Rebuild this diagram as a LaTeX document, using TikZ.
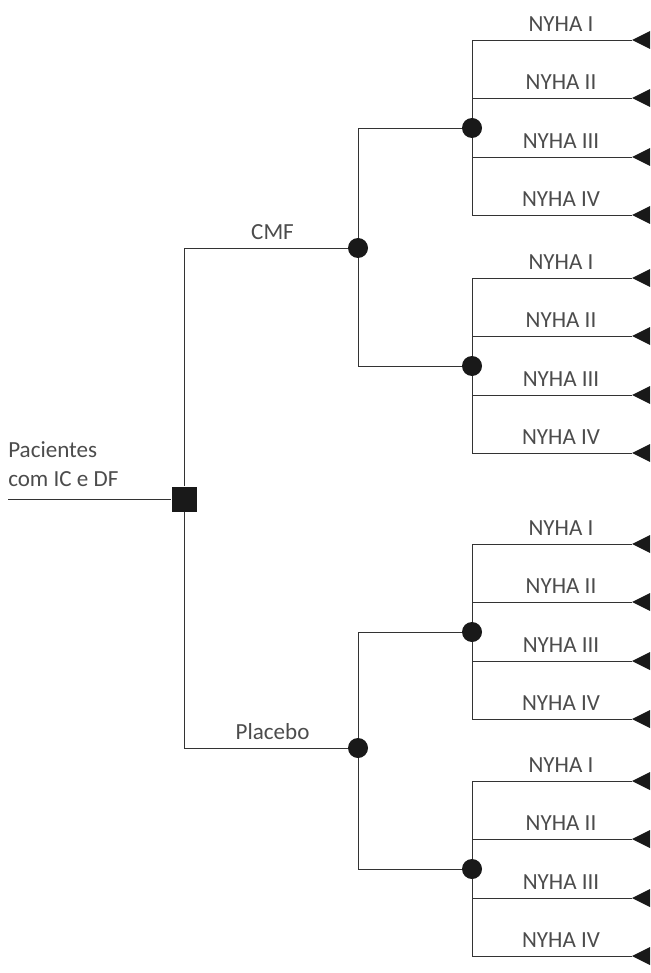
\documentclass[tikz,border=0pt]{standalone}
\usepackage{fontspec}
\setmainfont{Carlito}
\usepackage{tikz}
\tikzset{
  decision/.style={rectangle, fill=black!90, minimum size=18.75pt, inner sep=0pt},
  chance/.style={circle, fill=black!90, minimum size=15pt, inner sep=0pt},
  branch/.style={draw=black!80, line width=0.7pt},
  lbl/.style={font=\fontsize{17.3}{21.75}\selectfont, text=black!70},
  armlbl/.style={lbl, above=6pt, inner sep=0pt, xshift=#1},
  armlbl/.default=5pt,
}
\begin{document}
\begin{tikzpicture}[x=0.75pt, y=-0.75pt]
  \useasboundingbox (0,0) rectangle (650,973);
  % decision and chance nodes
  \node[decision] (dec) at (184,499) {};
  \node[chance] (c1) at (358,248) {};
  \node[chance] (c2) at (358,748) {};
  \foreach \g/\y in {11/128, 12/366, 21/632, 22/869}
    \node[chance] (c\g) at (472,\y) {};
  % patients entering the tree
  \coordinate (start) at (8,499);
  \node[lbl, anchor=south west, align=left, inner sep=0pt] (pac) at (8,487) {Pacientes\\com IC e DF};
  \draw[branch] (start) -- (dec);
  % treatment arms
  \draw[branch] (dec) |- (c1) node[armlbl, pos=0.75] {CMF};
  \draw[branch] (dec) |- (c2) node[armlbl, pos=0.75] {Placebo};
  \draw[branch] (c1) |- (c11);
  \draw[branch] (c1) |- (c12);
  \draw[branch] (c2) |- (c21);
  \draw[branch] (c2) |- (c22);
  % NYHA class outcomes
  \foreach \g/\y in {11/128, 12/366, 21/632, 22/869} {
    \foreach \k/\d/\cls in {1/-88/I, 2/-30/II, 3/29/III, 4/87/IV} {
      \coordinate (e\g\k) at (632,\y+\d);
      \draw[branch] (c\g) |- (e\g\k) node[armlbl=6.75pt, pos=0.75] {NYHA \cls};
      \fill[black!90] (e\g\k) -- ++(18,-9) -- ++(0,18) -- cycle;
    }
  }
\end{tikzpicture}
\end{document}
